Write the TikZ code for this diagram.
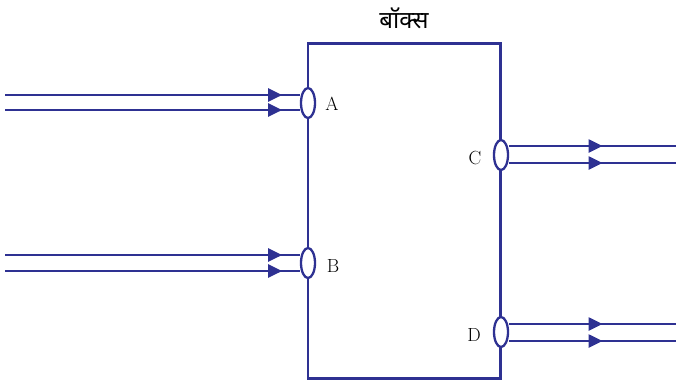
\documentclass[tikz,border=0pt]{standalone}
\usepackage{fontspec}
\newfontfamily\devfont[Script=Devanagari]{Noto Sans}
\usetikzlibrary{arrows.meta,decorations.markings,shapes.geometric}
\definecolor{BoxBlue}{RGB}{46,49,146}

\begin{document}
\begin{tikzpicture}[
                        x=1pt, y=-1pt,
                        every node/.style={font=\fontsize{19}{22}\selectfont},
                        port/.style={ellipse, draw=BoxBlue, line width=2.3pt, fill=white, minimum width=14pt, minimum height=30pt, inner sep=0pt},
                        wire/.style={line width=2.3pt, BoxBlue, postaction={decorate},
                            decoration={markings, mark=at position #1 with {\arrow{Triangle[length=14pt,width=13pt]}}}}
                    ]
                        \useasboundingbox (0,0) rectangle (676,384);
                        \node[draw=BoxBlue, line width=2.3pt, minimum width=192.5pt, minimum height=335pt, inner sep=0pt] (box) at (404.25,211) {};
                        \node[font=\devfont\fontsize{24}{28}\selectfont] (title) at (404,18) {बॉक्स};
                        \node[port] (A) at (308,103) {};
                        \node[port] (B) at (308,263) {};
                        \node[port] (C) at (501,155) {};
                        \node[port] (D) at (501,332) {};
                        \node (labA) at (332,104) {A};
                        \node (labB) at (333,266) {B};
                        \node (labC) at (475,158) {C};
                        \node (labD) at (474,335) {D};
                        % free ends of the wires
                        \coordinate (a1) at (5,95);   \coordinate (a2) at (5,110);
                        \coordinate (b1) at (5,255);  \coordinate (b2) at (5,271);
                        \coordinate (c1) at (676,146); \coordinate (c2) at (676,163);
                        \coordinate (d1) at (676,324); \coordinate (d2) at (676,341);
                        \draw[wire=0.94] (a1) -- (a1 -| A.west);
                        \draw[wire=0.94] (a2) -- (a2 -| A.west);
                        \draw[wire=0.94] (b1) -- (b1 -| B.west);
                        \draw[wire=0.94] (b2) -- (b2 -| B.west);
                        \draw[wire=0.56] (c1 -| C.east) -- (c1);
                        \draw[wire=0.56] (c2 -| C.east) -- (c2);
                        \draw[wire=0.56] (d1 -| D.east) -- (d1);
                        \draw[wire=0.56] (d2 -| D.east) -- (d2);
                    \end{tikzpicture}
\end{document}
